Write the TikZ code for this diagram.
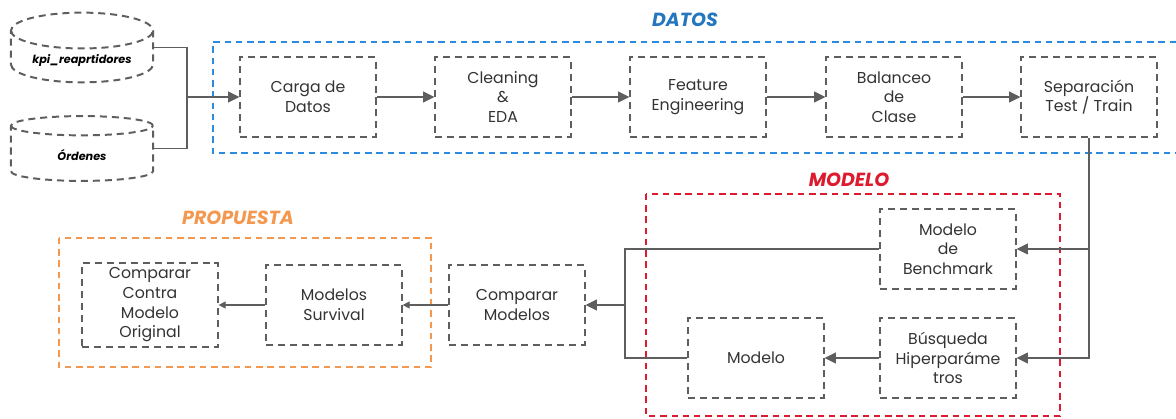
\documentclass[tikz,border=0pt]{standalone}
\usepackage{fontspec}
\setmainfont{Poppins}
\usetikzlibrary{shapes.geometric,arrows.meta}
\definecolor{grisbox}{HTML}{5E5E5E}
\definecolor{azuldatos}{HTML}{2A8BE0}
\definecolor{rojomodelo}{HTML}{DD1A2E}
\definecolor{naranjaprop}{HTML}{F5984F}
\begin{document}
\begin{tikzpicture}[x=0.025cm,y=-0.025cm,
	paso/.style={draw=grisbox, dash pattern=on 5pt off 3.5pt, line width=1.4pt, minimum width=3.38cm, minimum height=1.98cm, align=center, text=black!80, font=\fontsize{11.2}{14}\selectfont},
	base/.style={draw=grisbox, dash pattern=on 5pt off 3.5pt, line width=1.4pt, cylinder, shape border rotate=90, aspect=0.33, minimum width=3.55cm, minimum height=1.62cm, anchor=shape center, font=\fontsize{8}{10}\selectfont\bfseries\itshape},
	grupo/.style={dash pattern=on 4.5pt off 3.5pt, line width=1.4pt},
	titulo/.style={font=\fontsize{13.5}{16}\selectfont\bfseries\itshape},
	flecha/.style={draw=grisbox, line width=1.4pt, -{Triangle[length=8pt,width=7.5pt]}},
	flechita/.style={draw=grisbox, line width=0.8pt, -{Triangle[length=5pt,width=5pt]}},
	linea/.style={draw=grisbox, line width=1.4pt}]
	\useasboundingbox (0,0) rectangle (1176,419);
	% grupos
	\draw[grupo, azuldatos] (1176,42) -- (213,42) -- (213,153) -- (1176,153);
	\node[titulo, text=azuldatos!85!black] (tdatos) at (685,20) {DATOS};
	\draw[grupo, rojomodelo] (646,194) rectangle (1060,416);
	\node[titulo, text=rojomodelo] (tmodelo) at (849,180) {MODELO};
	\draw[grupo, naranjaprop] (59,238) rectangle (431,367);
	\node[titulo, text=naranjaprop] (tprop) at (238,218) {PROPUESTA};
	% fuentes
	\node[base] (kpi) at (82,47.5) {kpi\_reaprtidores};
	\node[base] (ord) at (82,148.5) {Órdenes};
	% datos
	\node[paso] (carga) at (308,97) {Carga de\\Datos};
	\node[paso] (clean) at (503,97) {Cleaning\\\&\\EDA};
	\node[paso] (feat) at (698,97) {Feature\\Engineering};
	\node[paso] (bal) at (894,97) {Balanceo\\de\\Clase};
	\node[paso] (sep) at (1089,97) {Separación\\Test / Train};
	% modelo
	\node[paso] (bench) at (948,249) {Modelo\\de\\Benchmark};
	\node[paso] (busq) at (948,358) {Búsqueda\\Hiperparáme\\tros};
	\node[paso] (modelo) at (756,358) {Modelo};
	% propuesta
	\node[paso] (compmod) at (517,305) {Comparar\\Modelos};
	\node[paso] (surv) at (334,305) {Modelos\\Survival};
	\node[paso] (contra) at (150,305) {Comparar\\Contra\\Modelo\\Original};
	% conectores
	\coordinate (junta) at (187,97);
	\coordinate (union) at (625,305);
	\draw[linea] (kpi.east |- kpi.shape center) -| (junta);
	\draw[linea] (ord.east |- ord.shape center) -| (junta);
	\draw[flecha] (junta) -- (carga);
	\draw[flecha] (carga) -- (clean);
	\draw[flecha] (clean) -- (feat);
	\draw[flecha] (feat) -- (bal);
	\draw[flecha] (bal) -- (sep);
	\draw[flecha] (sep.south) |- (busq.east);
	\draw[flecha] (sep.south |- bench.east) -- (bench.east);
	\draw[flecha] (busq) -- (modelo);
	\draw[linea] (bench.west) -| (union);
	\draw[linea] (modelo.west) -| (union);
	\draw[flecha] (union) -- (compmod.east);
	\draw[flechita] (compmod) -- (surv);
	\draw[flechita] (surv) -- (contra);
\end{tikzpicture}
\end{document}
